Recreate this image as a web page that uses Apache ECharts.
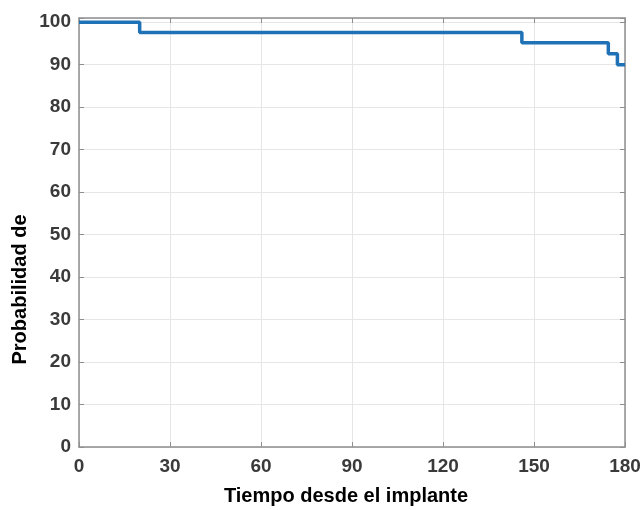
<!DOCTYPE html>
<html>
<head>
<meta charset="utf-8">
<script src="https://cdn.jsdelivr.net/npm/echarts@6/dist/echarts.min.js"></script>
<style>
html,body{margin:0;padding:0;background:#fff;}
#chart{width:644px;height:510px;}
</style>
</head>
<body>
<div id="chart"></div>
<script>
// Kaplan-Meier step data (time, survival %)
var times = [0, 20, 146, 174.5, 177.5, 180];
var survival = [100, 97.6, 95.2, 92.6, 90.0, 90.0];
var xTicks = [0, 30, 60, 90, 120, 150, 180];
var yTicks = [0, 10, 20, 30, 40, 50, 60, 70, 80, 90, 100];
var xTitle = 'Tiempo desde el implante';
var yTitle = 'Probabilidad de';

var chart = echarts.init(document.getElementById('chart'));
var seriesData = times.map(function (t, i) { return [t, survival[i]]; });

var axisColor = '#8f8f8f';
var labelStyle = {
  color: '#3a3a3a', fontSize: 19, fontWeight: 'bold',
  fontFamily: '"Liberation Sans", Arial, sans-serif'
};

chart.setOption({
  animation: false,
  backgroundColor: '#ffffff',
  grid: { left: 79, right: 19, top: 18, bottom: 63, containLabel: false },
  xAxis: [{
    type: 'value', min: xTicks[0], max: xTicks[xTicks.length - 1], interval: 30,
    position: 'bottom',
    axisLine: { show: true, onZero: false, lineStyle: { color: axisColor, width: 1.5 } },
    axisTick: { show: true, inside: true, length: 5, lineStyle: { color: axisColor } },
    splitLine: { show: true, lineStyle: { color: '#e6e6e6', width: 1 } },
    axisLabel: Object.assign({ margin: 10, showMinLabel: true, showMaxLabel: true }, labelStyle)
  }, {
    type: 'value', min: xTicks[0], max: xTicks[xTicks.length - 1], interval: 30,
    position: 'top',
    axisLine: { show: true, onZero: false, lineStyle: { color: axisColor, width: 1.5 } },
    axisTick: { show: true, inside: true, length: 5, lineStyle: { color: axisColor } },
    splitLine: { show: false },
    axisLabel: { show: false }
  }],
  yAxis: [{
    type: 'value', min: 0, max: 101, interval: 10,
    position: 'left',
    axisLine: { show: true, onZero: false, lineStyle: { color: axisColor, width: 1.5 } },
    axisTick: { show: true, inside: true, length: 5, lineStyle: { color: axisColor } },
    splitLine: { show: true, lineStyle: { color: '#e6e6e6', width: 1 } },
    axisLabel: Object.assign({
      margin: 8,
      formatter: function (v) { return yTicks.indexOf(v) >= 0 ? String(v) : ''; }
    }, labelStyle)
  }, {
    type: 'value', min: 0, max: 101, interval: 10,
    position: 'right',
    axisLine: { show: true, onZero: false, lineStyle: { color: axisColor, width: 1.5 } },
    axisTick: { show: true, inside: true, length: 5, lineStyle: { color: axisColor } },
    splitLine: { show: false },
    axisLabel: { show: false }
  }],
  series: [{
    type: 'line',
    step: 'end',
    xAxisIndex: 0, yAxisIndex: 0,
    data: seriesData,
    showSymbol: false,
    symbol: 'none',
    clip: false,
    lineStyle: { color: '#1f72b6', width: 3.5 }
  }],
  graphic: [{
    type: 'text',
    x: 346, y: 496,
    style: {
      text: xTitle, fill: '#000', fontSize: 20, fontWeight: 'bold',
      fontFamily: '"Liberation Sans", Arial, sans-serif',
      textAlign: 'center', textVerticalAlign: 'middle'
    }
  }, {
    type: 'text',
    x: 20, y: 289.5,
    rotation: Math.PI / 2,
    style: {
      text: yTitle, fill: '#000', fontSize: 20, fontWeight: 'bold',
      fontFamily: '"Liberation Sans", Arial, sans-serif',
      textAlign: 'center', textVerticalAlign: 'middle'
    }
  }]
});
</script>
</body>
</html>
